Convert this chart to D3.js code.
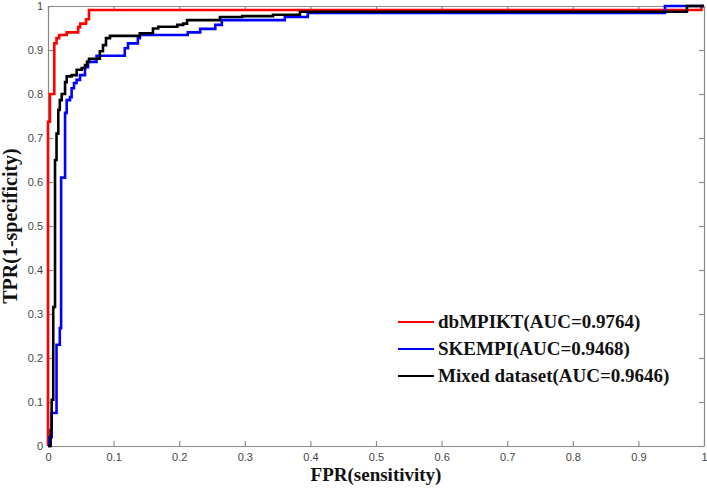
<!DOCTYPE html>
<html>
<head>
  <script src="https://d3js.org/d3.v7.min.js"></script>
  <style>
      body { margin: 0; background: #fff; }
      #chart { width: 707px; height: 488px; position: relative; }
      .axis text { font-family: "Liberation Sans", Arial, sans-serif; font-size: 11px; fill: #444; }
      .axis path, .axis line { stroke: #8a8a8a; stroke-width: 1.2; }
      .axisLabel, .legend text {
        font-family: "Liberation Serif", "Times New Roman", serif;
        font-weight: bold;
        fill: #111;
      }
  </style>
</head>
<body>
  <div id="chart"></div>
  <script>
    /*
    DIMENSIONS
    */
    const width = 707;
    const height = 488;
    const margin = {top: 6, left: 48, right: 3, bottom: 42};
    const svg = d3.select("#chart")
      .append("svg")
      .attr("width", width)
      .attr("height", height);

    /*
    DATA: ROC points, (fpr, tpr) at each step corner
    */
    const ticks = [0, 0.1, 0.2, 0.3, 0.4, 0.5, 0.6, 0.7, 0.8, 0.9, 1];
    const labels = ["dbMPIKT(AUC=0.9764)", "SKEMPI(AUC=0.9468)", "Mixed dataset(AUC=0.9646)"];
    const colors = ["#ff0000", "#0000ff", "#000000"];

    const redFpr = [0, 0, 0.003, 0.0096, 0.013, 0.017, 0.0285, 0.046, 0.049, 0.058, 0.0625, 0.996, 1];
    const redTpr = [0, 0.737, 0.80, 0.915, 0.927, 0.934, 0.94, 0.952, 0.96, 0.97, 0.991, 1, 1];

    const blueFpr = [0, 0.002, 0.0056, 0.013, 0.018, 0.020, 0.026, 0.0285, 0.0335, 0.036, 0.0396, 0.0436,
      0.0488, 0.0564, 0.061, 0.074, 0.117, 0.122, 0.137, 0.140, 0.213, 0.232, 0.255, 0.265, 0.361, 0.396, 0.9405, 1];
    const blueTpr = [0, 0.02, 0.075, 0.23, 0.268, 0.61, 0.757, 0.786, 0.793, 0.813, 0.825, 0.832,
      0.843, 0.861, 0.873, 0.887, 0.904, 0.915, 0.927, 0.934, 0.94, 0.948, 0.957, 0.968, 0.975, 0.984, 1, 1];

    const blackFpr = [0, 0.004, 0.0056, 0.008, 0.0107, 0.013, 0.0157, 0.018, 0.0209, 0.026, 0.0285, 0.036,
      0.0437, 0.0514, 0.0564, 0.0595, 0.0625, 0.079, 0.0838, 0.0884, 0.0945, 0.140, 0.160, 0.168, 0.197,
      0.206, 0.212, 0.262, 0.296, 0.343, 0.384, 0.974, 1];
    const blackTpr = [0, 0.036, 0.105, 0.316, 0.65, 0.71, 0.764, 0.786, 0.80, 0.827, 0.84, 0.843,
      0.855, 0.859, 0.866, 0.873, 0.88, 0.897, 0.911, 0.927, 0.932, 0.938, 0.949, 0.953, 0.957,
      0.96, 0.968, 0.975, 0.977, 0.98, 0.987, 1, 1];

    const series = [
      {fpr: redFpr, tpr: redTpr},
      {fpr: blueFpr, tpr: blueTpr},
      {fpr: blackFpr, tpr: blackTpr}
    ];

    /*
    SCALES
    */
    const xScale = d3.scaleLinear()
      .domain([0, 1])
      .range([margin.left, width - margin.right]);

    const yScale = d3.scaleLinear()
      .domain([0, 1])
      .range([height - margin.bottom, margin.top]);

    const fmt = function(d) { return d === 0 || d === 1 ? String(d) : d3.format(".1f")(d); };

    /*
    AXES (box with inward ticks on all four sides)
    */
    svg.append("g")
      .attr("class", "axis")
      .attr("transform", `translate(0, ${height - margin.bottom})`)
      .call(d3.axisBottom(xScale).tickValues(ticks).tickFormat(fmt).tickSizeInner(-5).tickSizeOuter(0).tickPadding(7));

    svg.append("g")
      .attr("class", "axis")
      .attr("transform", `translate(${margin.left}, 0)`)
      .call(d3.axisLeft(yScale).tickValues(ticks).tickFormat(fmt).tickSizeInner(-5).tickSizeOuter(0).tickPadding(5));

    svg.append("g")
      .attr("class", "axis")
      .attr("transform", `translate(0, ${margin.top})`)
      .call(d3.axisTop(xScale).tickValues(ticks).tickFormat("").tickSizeInner(-5).tickSizeOuter(0));

    svg.append("g")
      .attr("class", "axis")
      .attr("transform", `translate(${width - margin.right}, 0)`)
      .call(d3.axisRight(yScale).tickValues(ticks).tickFormat("").tickSizeInner(-5).tickSizeOuter(0));

    /*
    AXIS LABELS
    */
    svg.append("text")
      .attr("class", "axisLabel")
      .attr("x", (margin.left + width - margin.right) / 2)
      .attr("y", height - 7)
      .attr("text-anchor", "middle")
      .style("font-size", "19px")
      .text("FPR(sensitivity)");

    svg.append("text")
      .attr("class", "axisLabel")
      .attr("transform", "rotate(-90)")
      .attr("x", -(margin.top + height - margin.bottom) / 2)
      .attr("y", 17)
      .attr("text-anchor", "middle")
      .style("font-size", "20px")
      .text("TPR(1-specificity)");

    /*
    ROC CURVES
    */
    const line = d3.line()
      .x(function(d) { return xScale(d[0]); })
      .y(function(d) { return yScale(d[1]); })
      .curve(d3.curveStepAfter);

    series.forEach(function(s, i) {
      const pts = s.fpr.map(function(f, j) { return [f, s.tpr[j]]; });
      svg.append("path")
        .datum(pts)
        .attr("d", line)
        .attr("fill", "none")
        .attr("stroke", colors[i])
        .attr("stroke-width", 2.6);
    });

    /*
    LEGEND
    */
    const legend = svg.append("g").attr("class", "legend");
    labels.forEach(function(lab, i) {
      const y = 322 + i * 27;
      legend.append("line")
        .attr("x1", 398).attr("x2", 434)
        .attr("y1", y).attr("y2", y)
        .attr("stroke", colors[i])
        .attr("stroke-width", 2);
      legend.append("text")
        .attr("x", 438)
        .attr("y", y + 6)
        .style("font-size", "19px")
        .text(lab);
    });
  </script>
</body>
</html>
